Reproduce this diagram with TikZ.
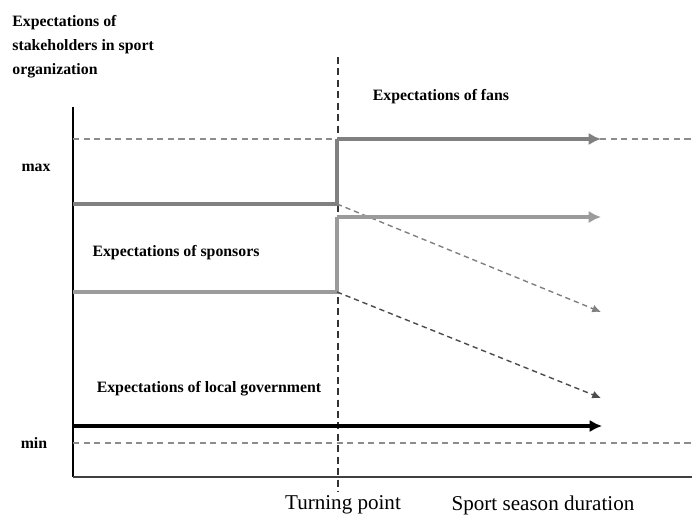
\documentclass[tikz,border=0pt]{standalone}
\usepackage{fontspec}
\setmainfont{Liberation Serif}
\usetikzlibrary{arrows.meta,positioning}

\definecolor{fangray}{RGB}{128,128,128}
\definecolor{sponsgray}{RGB}{155,155,155}
\definecolor{guidegray}{RGB}{140,140,140}

\begin{document}
\begin{tikzpicture}[x=0.02cm, y=-0.02cm,
      lbl/.style={font=\fontsize{9}{13.6}\selectfont\bfseries, inner sep=0pt, align=left},
      axlbl/.style={font=\fontsize{12}{14}\selectfont, inner sep=0pt},
      guide/.style={guidegray, dashed, line width=0.6pt, dash pattern=on 3.5pt off 2.5pt},
      level/.style={line width=2.8pt},
      pfeil/.style={-{Latex[length=7pt,width=7pt]}},
      drop/.style={line width=0.8pt, dash pattern=on 3pt off 2.2pt, -{Latex[length=5pt,width=4.5pt]}}]

\useasboundingbox (0,0) rectangle (692,517);

% axes
\coordinate (o) at (73,477);
\coordinate (ytop) at (73,107);
\coordinate (xend) at (692,477);
\draw[black, line width=0.7pt] (ytop) -- (o);
\draw[black!75, line width=0.9pt] (o) -- (xend);

% max / min guides
\coordinate (maxL) at (73,139);
\coordinate (maxR) at (692,139);
\coordinate (minL) at (73,443);
\coordinate (minR) at (692,443);
\draw[guide] (maxL) -- (maxR);
\draw[guide] (minL) -- (minR);

% turning point
\coordinate (tpT) at (338,57);
\coordinate (tpB) at (338,491);
\draw[black!80, line width=0.7pt, dash pattern=on 4pt off 2.5pt] (tpT) -- (tpB);

% fans
\coordinate (f0) at (73,204);
\coordinate (f1) at (337,204);
\coordinate (f2) at (337,139);
\coordinate (f3) at (601,139);
\coordinate (f4) at (601,312);
\draw[level, fangray] (f0) -- (f1) -- (f2);
\draw[level, fangray, pfeil] (f2) -- (f3);
\draw[drop, fangray] (f1) -- (f4);

% sponsors
\coordinate (s0) at (73,292);
\coordinate (s1) at (337,292);
\coordinate (s2) at (337,217);
\coordinate (s3) at (601,217);
\coordinate (s4) at (601,398);
\draw[level, sponsgray] (s0) -- (s1) -- (s2);
\draw[level, sponsgray, pfeil] (s2) -- (s3);
\draw[drop, black!70] (s1) -- (s4);

% local government
\coordinate (g0) at (73,426);
\coordinate (g1) at (602,426);
\draw[black, line width=2.6pt, pfeil] (g0) -- (g1);

% labels
\node[lbl, anchor=west] (title) at (12,47) {Expectations of\\stakeholders in sport\\organization};
\node[lbl] (max) at (36,168) {max};
\node[lbl] (min) at (34,443) {min};
\node[lbl] (fans) at (441,97) {Expectations of fans};
\node[lbl] (spons) at (176,253) {Expectations of sponsors};
\node[lbl] (gov) at (209,389) {Expectations of local government};
\node[axlbl] (turn) at (343,505) {Turning point};
\node[axlbl] (season) at (543,505) {Sport season duration};

\end{tikzpicture}
\end{document}
